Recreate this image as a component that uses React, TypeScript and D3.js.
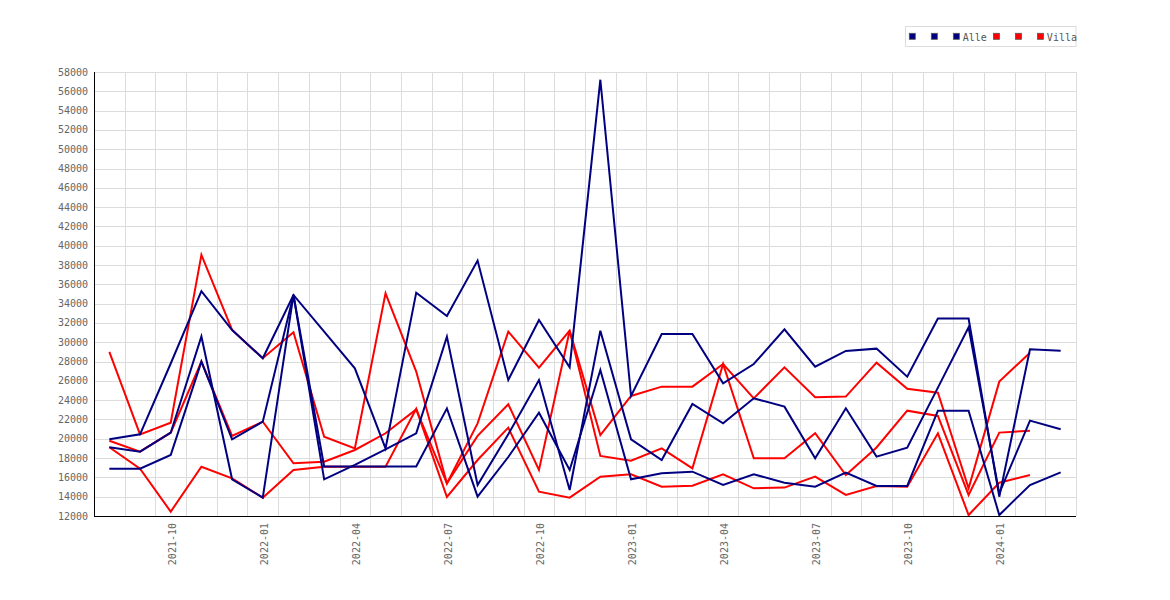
import React from "react";
import * as d3 from "d3";

const months = [
  "2021-08","2021-09","2021-10","2021-11","2021-12","2022-01","2022-02","2022-03",
  "2022-04","2022-05","2022-06","2022-07","2022-08","2022-09","2022-10","2022-11",
  "2022-12","2023-01","2023-02","2023-03","2023-04","2023-05","2023-06","2023-07",
  "2023-08","2023-09","2023-10","2023-11","2023-12","2024-01","2024-02","2024-03",
];

const xTickLabels = ["2021-10","2022-01","2022-04","2022-07","2022-10","2023-01","2023-04","2023-07","2023-10","2024-01"];
const yTicks = [12000,14000,16000,18000,20000,22000,24000,26000,28000,30000,32000,34000,36000,38000,40000,42000,44000,46000,48000,50000,52000,54000,56000,58000];

const alle1 = [19950,20460,27800,35300,31270,28340,34900,31100,27300,19010,35140,32720,38460,26090,32300,27400,57200,24430,30860,30860,25750,27750,31340,27470,29100,29340,26440,32450,32450,14000,29270,29130];
const alle2 = [19120,18660,20630,30600,15800,13900,34900,15800,17300,18900,20560,30580,15210,20460,26090,14690,31200,19940,17800,23610,21600,24190,23330,17980,23160,18150,19080,25300,31550,14350,21880,20980];
const alle3 = [16900,16900,18320,28000,19940,21770,34900,17130,17130,17130,17130,23150,14000,18110,22700,16770,27130,15800,16420,16590,15210,16320,15450,15040,16490,15110,15110,22910,22910,12100,15210,16520];

const villa1 = [29000,20460,21670,39050,31270,28340,31030,20220,19010,35070,26960,15380,21600,31100,27370,31200,20390,24440,25400,25400,27750,24190,27400,24300,24370,27890,25190,24780,14870,25920,28920,null];
const villa2 = [19800,18660,20630,28000,20300,21770,17460,17630,18840,20570,23050,15380,20300,23570,16770,31200,18220,17730,19010,16940,27750,17980,17980,20570,16250,19100,22910,22360,14180,20640,20840,null];
const villa3 = [19120,16900,12450,17100,15900,13900,16770,17110,17110,17110,23100,13970,17800,21150,14520,13900,16070,16320,15040,15140,16320,14870,14940,16080,14180,15110,15040,20570,12100,15450,16250,null];

const legendLabels = [" ", " ", "Alle", " ", " ", "Villa"];
const legendColors = ["#000080","#000080","#000080","#ff0000","#ff0000","#ff0000"];

const NAVY = "#000080";
const RED = "#ff0000";

const seriesList: { values: (number | null)[]; color: string }[] = [
  { values: villa1, color: RED },
  { values: villa2, color: RED },
  { values: villa3, color: RED },
  { values: alle1, color: NAVY },
  { values: alle2, color: NAVY },
  { values: alle3, color: NAVY },
];

const W = 1170, H = 600;
const L = 94, R = 1076, T = 72, B = 516;
const FONT = "'DejaVu Sans Mono', monospace";

export default function App() {
  const x = d3.scaleBand<string>().domain(months).range([L, R]).paddingInner(0).paddingOuter(0);
  const bw = x.bandwidth();
  const cx = (m: string) => (x(m) as number) + bw / 2;
  const y = d3.scaleLinear().domain([12000, 58000]).range([B, T]);

  const line = d3
    .line<number | null>()
    .defined((d) => d !== null)
    .x((_, i) => cx(months[i]))
    .y((d) => y(d as number));

  const charW = 6.02;
  let lx = 909.3;
  const legendItems = legendLabels.map((lab, i) => {
    const item = { x: lx, label: lab, color: legendColors[i] };
    lx += 16 + charW * Math.max(1, lab.length);
    return item;
  });

  return (
    <svg width={W} height={H} style={{ position: "absolute", left: 0, top: 0, background: "#fff" }} fontFamily={FONT}>
      <rect x={0} y={0} width={W} height={H} fill="#fff" />
      {yTicks.map((t) => (
        <line key={"h" + t} x1={L} x2={R} y1={Math.round(y(t)) + 0.5} y2={Math.round(y(t)) + 0.5} stroke="#dcdcdc" strokeWidth={1} />
      ))}
      {months.map((m) => {
        const xx = Math.round((x(m) as number) + bw) + 0.5;
        return <line key={"v" + m} x1={xx} x2={xx} y1={T} y2={B} stroke="#dcdcdc" strokeWidth={1} />;
      })}
      {seriesList.map((s, i) => (
        <path key={"s" + i} d={line(s.values) || ""} fill="none" stroke={s.color} strokeWidth={2} strokeLinejoin="miter" />
      ))}
      <line x1={L + 0.5} x2={L + 0.5} y1={T} y2={B + 0.5} stroke="#000" strokeWidth={1} />
      <line x1={L} x2={R} y1={B + 0.5} y2={B + 0.5} stroke="#000" strokeWidth={1} />
      {yTicks.map((t) => (
        <text key={"yl" + t} x={88} y={y(t) + 3.5} textAnchor="end" fontSize={10} fill="#666">
          {t}
        </text>
      ))}
      {xTickLabels.map((m) => {
        const xx = cx(m) + 5;
        const yy = 523;
        return (
          <text key={"xl" + m} x={xx} y={yy} transform={`rotate(-90 ${xx} ${yy})`} textAnchor="end" fontSize={10} fill="#666">
            {m}
          </text>
        );
      })}
      <rect x={905.5} y={26.5} width={170.5} height={20} fill="#fff" stroke="#dcdcdc" strokeWidth={1} />
      {legendItems.map((it, i) => (
        <g key={"lg" + i}>
          <rect x={it.x} y={33.3} width={6} height={6} fill={it.color} stroke="#555" strokeWidth={0.8} />
          <text x={it.x + 9.4} y={40.5} fontSize={10} fill="#555">
            {it.label}
          </text>
        </g>
      ))}
    </svg>
  );
}
